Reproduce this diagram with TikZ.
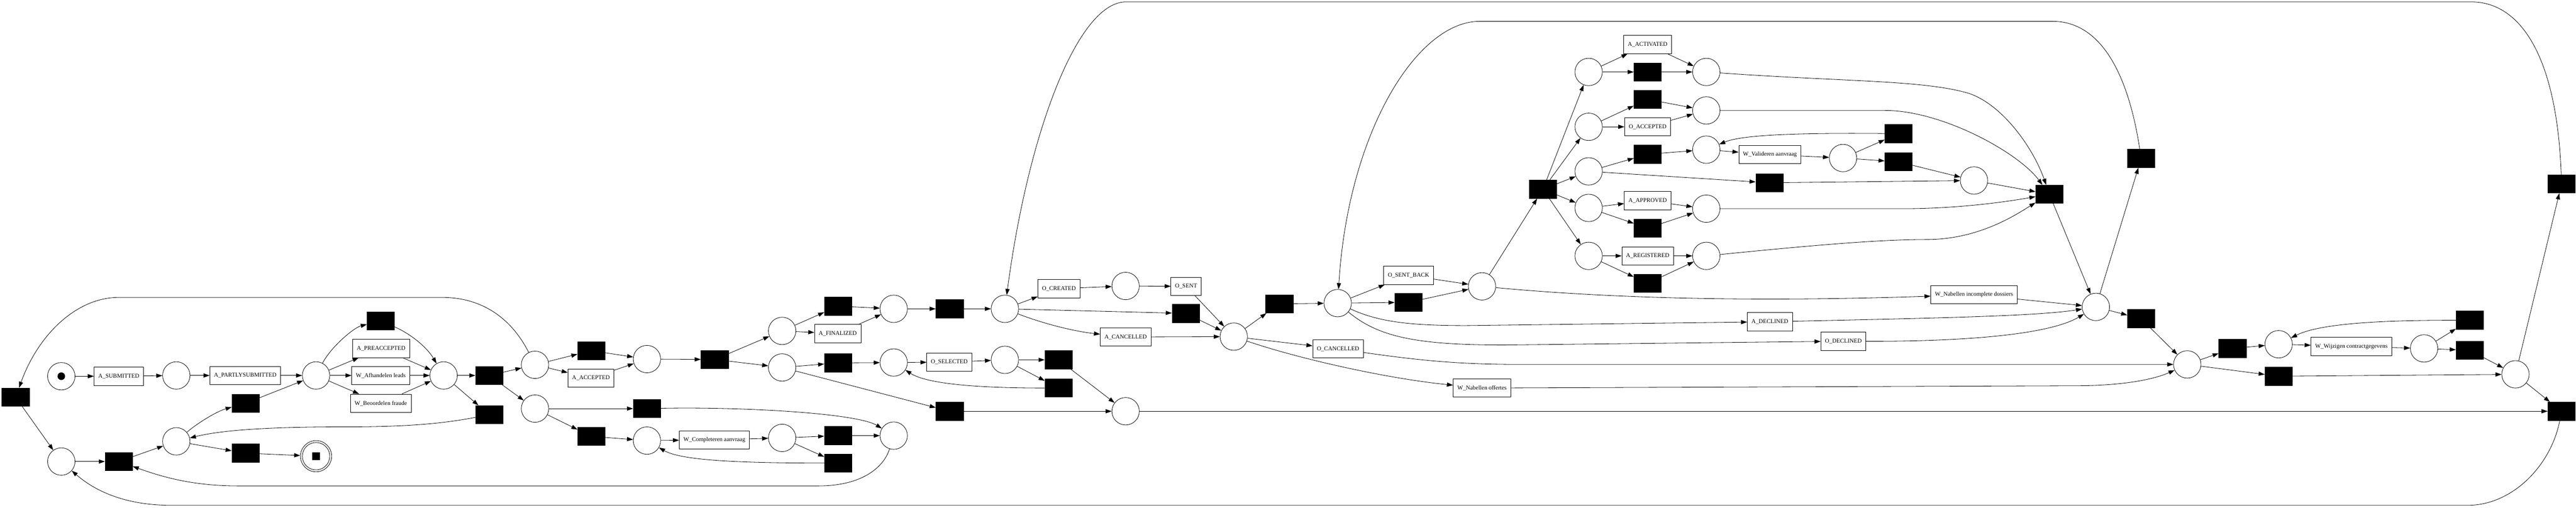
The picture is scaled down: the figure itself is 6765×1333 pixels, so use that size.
\documentclass[tikz,border=0pt]{standalone}
\usepackage{fontspec}
\setmainfont{Liberation Serif}
\usetikzlibrary{arrows.meta}

\begin{document}
\begin{tikzpicture}[x=1pt, y=-1pt, line width=1.1pt,
    place/.style={draw, circle, minimum size=72pt, inner sep=0pt},
    silent/.style={draw, fill=black, minimum width=72pt, minimum height=48pt, inner sep=0pt},
    task/.style={draw, fill=white, minimum height=48pt, inner xsep=11pt, inner ysep=0pt, font=\fontsize{15.5}{18}\selectfont},
    flow/.style={-{Triangle[length=16pt,width=11pt]}}]
        \useasboundingbox (0,0) rectangle (6765,1333);

        \node[place] (ps) at (161,988) {};
        \node[place] (p2) at (463,986) {};
        \node[place] (p3) at (830,986) {};
        \node[place] (p4) at (1165,986) {};
        \node[place] (p5) at (1405,958) {};
        \node[place] (p6) at (1405,1073) {};
        \node[place] (p7) at (463,1159) {};
        \node[place, minimum size=82pt] (pend) at (830,1198) {};
        \node[place] (pbl) at (161,1212) {};
        \node[place] (p8) at (1699,943) {};
        \node[place] (p9) at (2054,869) {};
        \node[place] (p10) at (2054,965) {};
        \node[place] (p11) at (2347,811) {};
        \node[place] (p12) at (2639,811) {};
        \node[place] (p13) at (2347,952) {};
        \node[place] (p14) at (2639,945) {};
        \node[place] (p15) at (2956,1080) {};
        \node[place] (p16) at (2347,1144) {};
        \node[place] (p17) at (1699,1157) {};
        \node[place] (p18) at (2054,1150) {};
        \node[place] (p19) at (2956,751) {};
        \node[place] (p20) at (3240,884) {};
        \node[place] (p21) at (3513,796) {};
        \node[place] (p22) at (3892,752) {};
        \node[place] (pa) at (4172,189) {};
        \node[place] (pb) at (4172,333) {};
        \node[place] (pc) at (4172,450) {};
        \node[place] (pd) at (4172,546) {};
        \node[place] (pe) at (4172,672) {};
        \node[place] (pf) at (4481,189) {};
        \node[place] (pg) at (4481,290) {};
        \node[place] (ph) at (4481,393) {};
        \node[place] (pk) at (4481,548) {};
        \node[place] (pl) at (4481,672) {};
        \node[place] (pi) at (4840,415) {};
        \node[place] (pj) at (5184,474) {};
        \node[place] (pm) at (5504,806) {};
        \node[place] (p23) at (5744,957) {};
        \node[place] (p24) at (5984,904) {};
        \node[place] (p25) at (6366,915) {};
        \node[place] (p26) at (6606,983) {};

        \fill (ps.center) circle (10);
        \draw (pend.center) circle (36);
        \fill ([shift={(-10,-10)}]pend.center) rectangle +(20,20);

        \node[silent] (t1) at (41,1043) {};
        \node[silent] (tbl) at (312,1212) {};
        \node[silent] (t7a) at (645,1059) {};
        \node[silent] (t7b) at (645,1190) {};
        \node[silent] (t3) at (1000,843) {};
        \node[silent] (t4a) at (1285,986) {};
        \node[silent] (t4b) at (1285,1089) {};
        \node[silent] (t5) at (1553,921) {};
        \node[silent] (t6) at (1699,1073) {};
        \node[silent] (t6b) at (1553,1146) {};
        \node[silent] (t8) at (1877,944) {};
        \node[silent] (t9) at (2201,804) {};
        \node[silent] (t10) at (2201,953) {};
        \node[silent] (t10b) at (2494,1080) {};
        \node[silent] (t11) at (2494,811) {};
        \node[silent] (t18a) at (2201,1144) {};
        \node[silent] (t18b) at (2201,1216) {};
        \node[silent] (t14a) at (2780,945) {};
        \node[silent] (t14b) at (2780,1019) {};
        \node[silent] (t12) at (3114,823) {};
        \node[silent] (t20) at (3360,798) {};
        \node[silent] (t21) at (3699,794) {};
        \node[silent] (t22) at (4052,497) {};
        \node[silent] (ta) at (4327,189) {};
        \node[silent] (tb) at (4327,261) {};
        \node[silent] (tc) at (4327,405) {};
        \node[silent] (tc2) at (4647,480) {};
        \node[silent] (ti1) at (4986,351) {};
        \node[silent] (ti2) at (4986,425) {};
        \node[silent] (td) at (4327,599) {};
        \node[silent] (te) at (4327,744) {};
        \node[silent] (tj) at (5382,510) {};
        \node[silent] (tm1) at (5623,416) {};
        \node[silent] (tm2) at (5623,837) {};
        \node[silent] (t23a) at (5863,915) {};
        \node[silent] (t23b) at (5984,988) {};
        \node[silent] (t25a) at (6486,841) {};
        \node[silent] (t25b) at (6486,920) {};
        \node[silent] (t26a) at (6727,483) {};
        \node[silent] (t26b) at (6727,1080) {};

        \node[task] (asub) at (312,988) {A\_SUBMITTED};
        \node[task] (apart) at (644,986) {A\_PARTLYSUBMITTED};
        \node[task] (aprea) at (1001,915) {A\_PREACCEPTED};
        \node[task] (wafh) at (1000,986) {W\_Afhandelen leads};
        \node[task] (wbeo) at (1000,1059) {W\_Beoordelen fraude};
        \node[task] (aacc) at (1552,993) {A\_ACCEPTED};
        \node[task] (afin) at (2200,876) {A\_FINALIZED};
        \node[task] (osel) at (2493,951) {O\_SELECTED};
        \node[task] (wcomp) at (1876,1155) {W\_Completeren aanvraag};
        \node[task] (ocre) at (2781,758) {O\_CREATED};
        \node[task] (osent) at (3115,752) {O\_SENT};
        \node[task] (acan) at (2956,885) {A\_CANCELLED};
        \node[task] (osb) at (3699,723) {O\_SENT\_BACK};
        \node[task] (ocan) at (3514,916) {O\_CANCELLED};
        \node[task] (wnoff) at (3892,1019) {W\_Nabellen offertes};
        \node[task] (aact) at (4327,117) {A\_ACTIVATED};
        \node[task] (oacc) at (4327,333) {O\_ACCEPTED};
        \node[task] (wval) at (4648,406) {W\_Valideren aanvraag};
        \node[task] (aapp) at (4327,527) {A\_APPROVED};
        \node[task] (areg) at (4327,672) {A\_REGISTERED};
        \node[task] (wninc) at (5184,774) {W\_Nabellen incomplete dossiers};
        \node[task] (adec) at (4648,845) {A\_DECLINED};
        \node[task] (odec) at (4841,896) {O\_DECLINED};
        \node[task] (wwijz) at (6175,910) {W\_Wijzigen contractgegevens};

        \draw[flow] (ps) to (asub);
        \draw[flow] (asub) to (p2);
        \draw[flow] (p2) to (apart);
        \draw[flow] (apart) to (p3);
        \draw[flow] (p3) .. controls (870,910) and (930,860) .. (t3);
        \draw[flow] (p3) to (aprea);
        \draw[flow] (p3) to (wafh);
        \draw[flow] (p3) to (wbeo);
        \draw[flow] (t3) .. controls (1075,875) and (1120,910) .. (p4);
        \draw[flow] (aprea) to (p4);
        \draw[flow] (wafh) to (p4);
        \draw[flow] (wbeo) to (p4);
        \draw[flow] (p4) to (t4a);
        \draw[flow] (p4) to (t4b);
        \draw[flow] (t4a) to (p5);
        \draw[flow] (t4a) to (p6);
        \draw[flow] (t4b) .. controls (1150,1115) and (1050,1121) .. (900,1121) .. controls (700,1121) and (580,1130) .. (p7);
        \draw[flow] (p7) .. controls (520,1110) and (570,1080) .. (t7a);
        \draw[flow] (t7a) to (p3);
        \draw[flow] (p7) to (t7b);
        \draw[flow] (t7b) to (pend);
        \draw[flow] (pbl) to (tbl);
        \draw[flow] (tbl) to (p7);
        \draw[flow] (t1) to (pbl);
        \draw[flow] (p5) .. controls (1340,830) and (1260,781) .. (1161,781) -- (312,781) .. controls (200,781) and (100,880) .. (t1);
        \draw[flow] (p16) .. controls (2320,1230) and (2260,1276) .. (2150,1276) -- (625,1276) .. controls (500,1276) and (420,1250) .. (tbl);
        \draw[flow] (t26b) .. controls (6700,1220) and (6600,1327) .. (6480,1327) -- (450,1327) .. controls (330,1327) and (250,1290) .. (pbl);

        \draw[flow] (p5) to (t5);
        \draw[flow] (p5) to (aacc);
        \draw[flow] (t5) to (p8);
        \draw[flow] (aacc) to (p8);
        \draw[flow] (p8) to (t8);
        \draw[flow] (t8) to (p9);
        \draw[flow] (t8) to (p10);
        \draw[flow] (p9) to (t9);
        \draw[flow] (p9) to (afin);
        \draw[flow] (t9) to (p11);
        \draw[flow] (afin) to (p11);
        \draw[flow] (p11) to (t11);
        \draw[flow] (t11) to (p12);
        \draw[flow] (p10) to (t10);
        \draw[flow] (t10) to (p13);
        \draw[flow] (p13) to (osel);
        \draw[flow] (osel) to (p14);
        \draw[flow] (p14) to (t14a);
        \draw[flow] (p14) to (t14b);
        \draw[flow] (t14b) .. controls (2600,1019) and (2440,1012) .. (p13);
        \draw[flow] (t14a) to (p15);
        \draw[flow] (p10) to (t10b);
        \draw[flow] (t10b) to (p15);
        \draw[flow] (p6) to (t6);
        \draw[flow] (t6) .. controls (1950,1068) and (2250,1085) .. (p16);
        \draw[flow] (p6) to (t6b);
        \draw[flow] (t6b) to (p17);
        \draw[flow] (p17) to (wcomp);
        \draw[flow] (wcomp) to (p18);
        \draw[flow] (p18) to (t18a);
        \draw[flow] (t18a) to (p16);
        \draw[flow] (p18) to (t18b);
        \draw[flow] (t18b) .. controls (1950,1216) and (1790,1210) .. (p17);

        \draw[flow] (p12) to (ocre);
        \draw[flow] (ocre) to (p19);
        \draw[flow] (p19) to (osent);
        \draw[flow] (p12) to (t12);
        \draw[flow] (p12) .. controls (2740,850) and (2820,870) .. (acan);
        \draw[flow] (osent) to (p20);
        \draw[flow] (t12) to (p20);
        \draw[flow] (acan) to (p20);
        \draw[flow] (p20) to (t20);
        \draw[flow] (t20) to (p21);
        \draw[flow] (p21) to (osb);
        \draw[flow] (p21) to (t21);
        \draw[flow] (osb) to (p22);
        \draw[flow] (t21) to (p22);
        \draw[flow] (p22) to (t22);
        \draw[flow] (p22) .. controls (4300,790) and (4700,790) .. (wninc);
        \draw[flow] (p21) .. controls (3620,845) and (3700,855) .. (3850,855) -- (adec);
        \draw[flow] (p21) .. controls (3620,885) and (3720,906) .. (3950,906) -- (odec);
        \draw[flow] (p20) to (ocan);
        \draw[flow] (p20) .. controls (3420,945) and (3650,995) .. (wnoff);
        \draw[flow] (ocan) .. controls (3750,950) and (3850,957) .. (4000,957) -- (p23);
        \draw[flow] (wnoff) -- (5450,1013) .. controls (5580,1013) and (5660,995) .. (p23);
        \draw[flow] (p15) to (t26b);

        \draw[flow] (t22) to (pa);
        \draw[flow] (t22) to (pb);
        \draw[flow] (t22) to (pc);
        \draw[flow] (t22) to (pd);
        \draw[flow] (t22) to (pe);
        \draw[flow] (pa) to (aact);
        \draw[flow] (pa) to (ta);
        \draw[flow] (aact) to (pf);
        \draw[flow] (ta) to (pf);
        \draw[flow] (pb) to (tb);
        \draw[flow] (pb) to (oacc);
        \draw[flow] (tb) to (pg);
        \draw[flow] (oacc) to (pg);
        \draw[flow] (pc) to (tc);
        \draw[flow] (tc) to (ph);
        \draw[flow] (ph) to (wval);
        \draw[flow] (wval) to (pi);
        \draw[flow] (pi) to (ti1);
        \draw[flow] (pi) to (ti2);
        \draw[flow] (ti2) to (pj);
        \draw[flow] (ti1) .. controls (4750,349) and (4580,352) .. (ph);
        \draw[flow] (pc) to (tc2);
        \draw[flow] (tc2) to (pj);
        \draw[flow] (pd) to (aapp);
        \draw[flow] (pd) to (td);
        \draw[flow] (aapp) to (pk);
        \draw[flow] (td) to (pk);
        \draw[flow] (pe) to (areg);
        \draw[flow] (pe) to (te);
        \draw[flow] (areg) to (pl);
        \draw[flow] (te) to (pl);
        \draw[flow] (pf) .. controls (4850,215) and (5050,210) .. (5170,245) .. controls (5260,275) and (5340,390) .. (tj);
        \draw[flow] (pg) -- (4950,290) .. controls (5100,290) and (5300,400) .. (tj);
        \draw[flow] (pj) to (tj);
        \draw[flow] (pk) -- (5000,548) .. controls (5150,548) and (5280,528) .. (tj);
        \draw[flow] (pl) .. controls (4800,640) and (4950,629) .. (5060,629) .. controls (5200,629) and (5300,560) .. (tj);

        \draw[flow] (tj) to (pm);
        \draw[flow] (wninc) to (pm);
        \draw[flow] (adec) .. controls (5100,835) and (5350,830) .. (pm);
        \draw[flow] (odec) .. controls (5150,897) and (5380,880) .. (pm);
        \draw[flow] (pm) to (tm1);
        \draw[flow] (pm) to (tm2);
        \draw[flow] (tm1) .. controls (5590,200) and (5520,56) .. (5390,56) -- (3886,56) .. controls (3720,56) and (3540,350) .. (p21);
        \draw[flow] (tm2) to (p23);
        \draw[flow] (p23) to (t23a);
        \draw[flow] (p23) to (t23b);
        \draw[flow] (t23a) to (p24);
        \draw[flow] (p24) to (wwijz);
        \draw[flow] (wwijz) to (p25);
        \draw[flow] (p25) to (t25a);
        \draw[flow] (p25) to (t25b);
        \draw[flow] (t25b) to (p26);
        \draw[flow] (t23b) to (p26);
        \draw[flow] (t25a) .. controls (6300,841) and (6100,845) .. (p24);
        \draw[flow] (p26) to (t26a);
        \draw[flow] (p26) to (t26b);
        \draw[flow] (t26a) .. controls (6715,150) and (6620,5) .. (6490,5) -- (2957,5) .. controls (2830,5) and (2700,350) .. (p12);
      \end{tikzpicture}
\end{document}
